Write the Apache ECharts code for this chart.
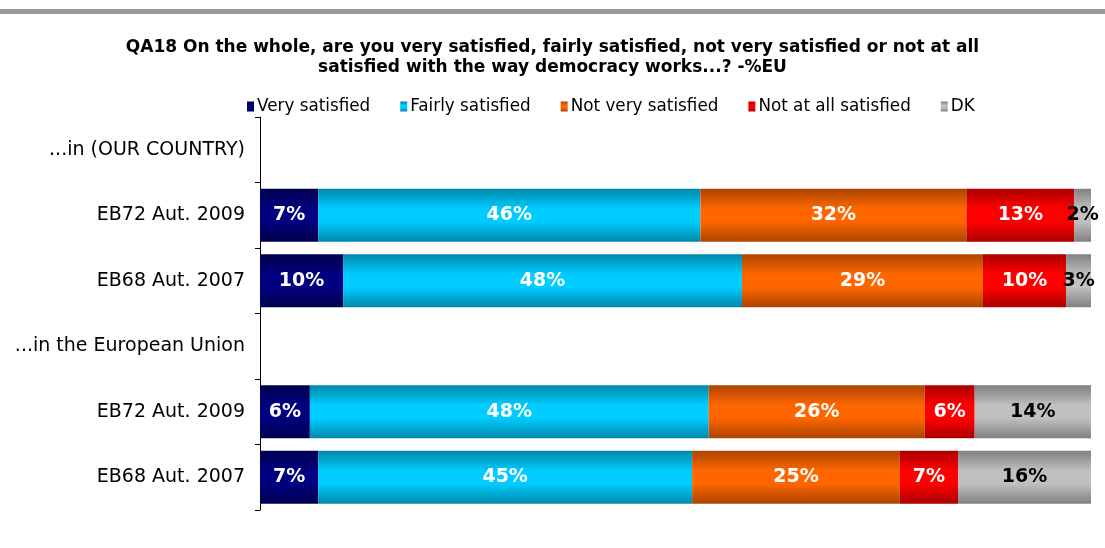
<!DOCTYPE html>
<html>
<head>
<meta charset="utf-8">
<script src="https://cdn.jsdelivr.net/npm/echarts@6/dist/echarts.min.js"></script>
<style>html,body{margin:0;padding:0;background:#fff}#c{width:1105px;height:548px}</style>
</head>
<body>
<div id="c"></div>
<script>
const categories = ['...in (OUR COUNTRY)', 'EB72 Aut. 2009', 'EB68 Aut. 2007', '...in the European Union', 'EB72 Aut. 2009 ', 'EB68 Aut. 2007 '];
const seriesNames = ['Very satisfied', 'Fairly satisfied', 'Not very satisfied', 'Not at all satisfied', 'DK'];
const verySatisfied = [null, 7, 10, null, 6, 7];
const fairlySatisfied = [null, 46, 48, null, 48, 45];
const notVerySatisfied = [null, 32, 29, null, 26, 25];
const notAtAllSatisfied = [null, 13, 10, null, 6, 7];
const dk = [null, 2, 3, null, 14, 16];
const titleText = 'QA18 On the whole, are you very satisfied, fairly satisfied, not very satisfied or not at all\nsatisfied with the way democracy works...? -%EU';

const allData = [verySatisfied, fairlySatisfied, notVerySatisfied, notAtAllSatisfied, dk];
const palette = [
  ['#00004f', '#000080'],
  ['#0088aa', '#00ccff'],
  ['#aa4400', '#ff6600'],
  ['#aa0000', '#ff0000'],
  ['#808080', '#c0c0c0']
];
const labelColors = ['#fff', '#fff', '#fff', '#fff', '#000'];
function grad(p) {
  return new echarts.graphic.LinearGradient(0, 0, 0, 1, [
    {offset: 0, color: p[0]}, {offset: 0.38, color: p[1]},
    {offset: 0.62, color: p[1]}, {offset: 1, color: p[0]}
  ]);
}
const chart = echarts.init(document.getElementById('c'));
chart.setOption({
  animation: false,
  title: {
    text: titleText, left: 'center', top: 33,
    textStyle: {fontFamily: 'DejaVu Sans', fontWeight: 'bold', fontSize: 17, color: '#000', lineHeight: 20}
  },
  legend: {
    top: 93, left: 242, itemWidth: 7, itemHeight: 10, itemGap: 30, icon: 'rect',
    textStyle: {fontFamily: 'DejaVu Sans', fontSize: 16.8, color: '#000', padding: [0, 0, 0, -2]},
    data: seriesNames
  },
  graphic: [{type: 'rect', left: 0, top: 9, shape: {width: 1105, height: 5}, style: {fill: '#9a9a9a'}}],
  grid: {left: 260, right: 14, top: 117, bottom: 38},
  xAxis: {type: 'value', min: 0, max: 100, show: false},
  yAxis: {
    type: 'category', data: categories, inverse: true,
    axisLine: {lineStyle: {color: '#000'}},
    axisTick: {show: true, length: 5, lineStyle: {color: '#000'}},
    axisLabel: {fontFamily: 'DejaVu Sans', fontSize: 19, color: '#000', margin: 15,
      formatter: v => v.trim()}
  },
  series: seriesNames.map((n, i) => ({
    name: n, type: 'bar', stack: 'all', barWidth: '81%',
    data: allData[i],
    itemStyle: {color: grad(palette[i])},
    label: {show: true, position: 'inside', formatter: p => p.value == null ? '' : p.value + '%',
      fontFamily: 'DejaVu Sans', fontWeight: 'bold', fontSize: 19, color: labelColors[i]}
  }))
});
</script>
</body>
</html>
